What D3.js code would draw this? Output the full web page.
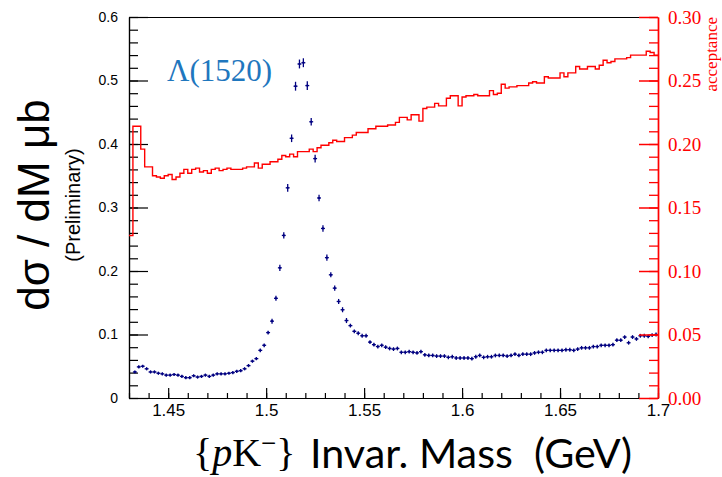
<!DOCTYPE html>
<html lang="en">
<head>
  <meta charset="UTF-8">
  <title>pK- invariant mass</title>
  <script src="https://cdn.jsdelivr.net/npm/d3@7"></script>
  <style>
    html, body {
      margin: 0;
      padding: 0;
      background: #fff;
      overflow: hidden;
    }
    svg { display: block; }
  </style>
</head>
<body>
  <svg id="chart" width="722" height="477"></svg>
  <script>
    // binning, GeV
    const binWidth = 0.002;
    const xsecStart = 1.432;   // low edge of first cross-section bin
    const accStart = 1.430;    // low edge of first acceptance bin

    // d sigma / dM (ub), one value per 2 MeV bin, 1.432 .. 1.700
    const xsec = [
      0.041, 0.049, 0.050, 0.046, 0.041, 0.041, 0.039, 0.038, 0.036, 0.036,
      0.037, 0.036, 0.034, 0.032, 0.032, 0.035, 0.033, 0.034, 0.036, 0.034,
      0.036, 0.038, 0.038, 0.038, 0.039, 0.040, 0.042, 0.043, 0.046, 0.051,
      0.058, 0.062, 0.075, 0.083, 0.103, 0.121, 0.157, 0.205, 0.256, 0.331,
      0.409, 0.491, 0.526, 0.528, 0.492, 0.435, 0.377, 0.315, 0.267, 0.221,
      0.194, 0.173, 0.152, 0.139, 0.122, 0.114, 0.105, 0.102, 0.098, 0.098,
      0.088, 0.084, 0.081, 0.083, 0.080, 0.078, 0.077, 0.078, 0.072, 0.072,
      0.073, 0.072, 0.071, 0.073, 0.068, 0.067, 0.067, 0.066, 0.066, 0.066,
      0.064, 0.065, 0.063, 0.063, 0.063, 0.063, 0.062, 0.065, 0.067, 0.064,
      0.065, 0.065, 0.067, 0.067, 0.067, 0.066, 0.067, 0.069, 0.067, 0.069,
      0.069, 0.069, 0.071, 0.072, 0.072, 0.075, 0.075, 0.075, 0.075, 0.075,
      0.076, 0.076, 0.075, 0.077, 0.079, 0.079, 0.079, 0.081, 0.081, 0.083,
      0.083, 0.083, 0.084, 0.091, 0.091, 0.096, 0.087, 0.096, 0.093, 0.098,
      0.098, 0.097, 0.099, 0.100
    ];
    const xsecErr = [
      0.0025, 0.0025, 0.0025, 0.0025, 0.0025, 0.0025, 0.0025, 0.0025, 0.0025, 0.0025,
      0.0025, 0.0025, 0.0025, 0.0025, 0.0025, 0.0025, 0.0025, 0.0025, 0.0025, 0.0025,
      0.0025, 0.0025, 0.0025, 0.0025, 0.0025, 0.0025, 0.0025, 0.0025, 0.0025, 0.0025,
      0.0025, 0.0025, 0.003, 0.003, 0.003, 0.004, 0.004, 0.005, 0.005, 0.006,
      0.006, 0.007, 0.007, 0.007, 0.007, 0.006, 0.006, 0.005, 0.005, 0.005,
      0.004, 0.004, 0.004, 0.004, 0.004, 0.003, 0.003, 0.003, 0.003, 0.003,
      0.003, 0.003, 0.003, 0.003, 0.003, 0.003, 0.003, 0.003, 0.003, 0.003,
      0.003, 0.003, 0.003, 0.003, 0.003, 0.003, 0.003, 0.003, 0.003, 0.003,
      0.003, 0.003, 0.003, 0.003, 0.003, 0.003, 0.003, 0.003, 0.003, 0.003,
      0.003, 0.003, 0.003, 0.003, 0.003, 0.003, 0.003, 0.003, 0.003, 0.003,
      0.003, 0.003, 0.003, 0.003, 0.003, 0.003, 0.003, 0.003, 0.003, 0.003,
      0.003, 0.003, 0.003, 0.003, 0.003, 0.003, 0.003, 0.003, 0.003, 0.003,
      0.003, 0.003, 0.003, 0.003, 0.003, 0.003, 0.003, 0.003, 0.003, 0.003,
      0.003, 0.003, 0.003, 0.003
    ];

    // acceptance, one value per 2 MeV bin, 1.430 .. 1.700
    const acceptance = [
      0.128, 0.214, 0.214, 0.196, 0.182, 0.182, 0.175, 0.174, 0.173, 0.175,
      0.176, 0.172, 0.174, 0.177, 0.180, 0.177, 0.180, 0.181, 0.178, 0.179,
      0.177, 0.180, 0.181, 0.179, 0.180, 0.181, 0.180, 0.180, 0.180, 0.181,
      0.182, 0.182, 0.185, 0.181, 0.184, 0.184, 0.186, 0.186, 0.188, 0.191,
      0.190, 0.192, 0.190, 0.194, 0.194, 0.194, 0.196, 0.194, 0.197, 0.199,
      0.199, 0.201, 0.203, 0.202, 0.202, 0.205, 0.205, 0.207, 0.209, 0.209,
      0.209, 0.212, 0.212, 0.214, 0.214, 0.214, 0.215, 0.215, 0.217, 0.221,
      0.221, 0.219, 0.223, 0.223, 0.218, 0.228, 0.229, 0.229, 0.232, 0.230,
      0.230, 0.236, 0.238, 0.238, 0.230, 0.237, 0.238, 0.238, 0.239, 0.238,
      0.238, 0.238, 0.242, 0.239, 0.240, 0.247, 0.244, 0.245, 0.245, 0.246,
      0.246, 0.246, 0.248, 0.249, 0.248, 0.248, 0.253, 0.252, 0.252, 0.252,
      0.256, 0.253, 0.256, 0.256, 0.261, 0.259, 0.259, 0.261, 0.261, 0.259,
      0.262, 0.266, 0.264, 0.265, 0.267, 0.267, 0.267, 0.268, 0.270, 0.270,
      0.270, 0.270, 0.273, 0.272, 0.270
    ];

    const xTicks = [1.45, 1.5, 1.55, 1.6, 1.65, 1.7];
    const xTickLabels = ['1.45', '1.5', '1.55', '1.6', '1.65', '1.7'];
    const yTicks = [0, 0.1, 0.2, 0.3, 0.4, 0.5, 0.6];
    const yTickLabels = ['0', '0.1', '0.2', '0.3', '0.4', '0.5', '0.6'];
    const accTicks = [0, 0.05, 0.10, 0.15, 0.20, 0.25, 0.30];
    const accTickLabels = ['0.00', '0.05', '0.10', '0.15', '0.20', '0.25', '0.30'];

    const frame = {left: 129, right: 658, top: 17, bottom: 398};
    const navy = '#000080';
    const red = '#ff0000';

    const svg = d3.select('#chart');
    svg.append('rect').attr('width', 722).attr('height', 477).attr('fill', '#fff');

    const x = d3.scaleLinear().domain([1.43, 1.7]).range([frame.left, frame.right]);
    const y = d3.scaleLinear().domain([0, 0.6]).range([frame.bottom, frame.top]);
    const yAcc = d3.scaleLinear().domain([0, 0.3]).range([frame.bottom, frame.top]);

    // top frame line
    svg.append('line')
      .attr('x1', frame.left).attr('x2', frame.right)
      .attr('y1', frame.top + 0.5).attr('y2', frame.top + 0.5)
      .attr('stroke', '#000').attr('stroke-width', 1.2);

    // left axis: minor then major, ticks pointing inward
    svg.append('g').attr('transform', `translate(${frame.left},0)`)
      .call(d3.axisLeft(y).tickValues(d3.range(0, 0.61, 0.02)).tickSize(-9).tickSizeOuter(0).tickFormat(''));
    const gLeft = svg.append('g').attr('transform', `translate(${frame.left},0)`)
      .call(d3.axisLeft(y).tickValues(yTicks).tickSize(-19).tickSizeOuter(0).tickPadding(11)
        .tickFormat((d, i) => yTickLabels[i]));
    gLeft.selectAll('text')
      .attr('font-family', '"Liberation Sans", Arial, sans-serif')
      .attr('font-size', 14).attr('fill', '#000');

    // bottom axis
    svg.append('g').attr('transform', `translate(0,${frame.bottom})`)
      .call(d3.axisBottom(x).tickValues(d3.range(143, 171).map(d => d / 100)).tickSize(-5).tickSizeOuter(0).tickFormat(''));
    const gBottom = svg.append('g').attr('transform', `translate(0,${frame.bottom})`)
      .call(d3.axisBottom(x).tickValues(xTicks).tickSize(-10).tickSizeOuter(0).tickPadding(6)
        .tickFormat((d, i) => xTickLabels[i]));
    gBottom.selectAll('text')
      .attr('font-family', '"Liberation Sans", Arial, sans-serif')
      .attr('font-size', 17).attr('fill', '#000');

    svg.selectAll('.domain, .tick line').attr('stroke', '#000').attr('stroke-width', 1.2);

    // acceptance histogram (step outline)
    const accSteps = [];
    acceptance.forEach((v, i) => {
      accSteps.push([accStart + i * binWidth, v]);
      accSteps.push([accStart + (i + 1) * binWidth, v]);
    });
    svg.append('path')
      .datum(accSteps)
      .attr('fill', 'none')
      .attr('stroke', red)
      .attr('stroke-width', 1.4)
      .attr('d', d3.line().x(d => x(d[0])).y(d => yAcc(d[1])));

    // cross-section points with error bars
    const points = xsec.map((v, i) => ({
      lo: xsecStart + i * binWidth,
      hi: xsecStart + (i + 1) * binWidth,
      mid: xsecStart + (i + 0.5) * binWidth,
      v,
      err: xsecErr[i],
    }));
    const gPts = svg.append('g').attr('stroke', navy).attr('stroke-width', 1.3);
    gPts.selectAll('line.h').data(points).enter().append('line')
      .attr('class', 'h')
      .attr('x1', d => x(d.lo)).attr('x2', d => x(d.hi))
      .attr('y1', d => y(d.v)).attr('y2', d => y(d.v));
    gPts.selectAll('line.v').data(points).enter().append('line')
      .attr('class', 'v')
      .attr('x1', d => x(d.mid)).attr('x2', d => x(d.mid))
      .attr('y1', d => y(d.v - d.err)).attr('y2', d => y(d.v + d.err));
    svg.append('g').selectAll('circle').data(points).enter().append('circle')
      .attr('cx', d => x(d.mid)).attr('cy', d => y(d.v)).attr('r', 1.1)
      .attr('fill', navy);

    // right acceptance axis
    const gRightMinor = svg.append('g').attr('transform', `translate(${frame.right},0)`)
      .call(d3.axisRight(yAcc).tickValues(d3.range(0, 0.301, 0.01)).tickSize(-9).tickSizeOuter(0).tickFormat(''));
    const gRight = svg.append('g').attr('transform', `translate(${frame.right},0)`)
      .call(d3.axisRight(yAcc).tickValues(accTicks).tickSize(-19).tickSizeOuter(0).tickPadding(10)
        .tickFormat((d, i) => accTickLabels[i]));
    gRightMinor.selectAll('.domain, .tick line').attr('stroke', red).attr('stroke-width', 1.3);
    gRight.selectAll('.domain, .tick line').attr('stroke', red).attr('stroke-width', 1.5);
    gRight.selectAll('text')
      .attr('font-family', '"Liberation Serif", "Times New Roman", serif')
      .attr('font-size', 19).attr('fill', red);

    // labels
    svg.append('text')
      .attr('x', 167).attr('y', 81)
      .attr('font-family', '"Liberation Serif", "Times New Roman", serif')
      .attr('font-size', 31).attr('fill', '#1f77be')
      .text('Λ(1520)');

    svg.append('text')
      .attr('transform', 'translate(49,205) rotate(-90)')
      .attr('text-anchor', 'middle')
      .attr('font-family', '"Liberation Sans", Arial, sans-serif')
      .attr('font-size', 44).attr('fill', '#000')
      .text('dσ / dM μb');

    svg.append('text')
      .attr('transform', 'translate(80,205) rotate(-90)')
      .attr('text-anchor', 'middle')
      .attr('font-family', '"Liberation Sans", Arial, sans-serif')
      .attr('font-size', 20).attr('fill', '#000')
      .text('(Preliminary)');

    svg.append('text')
      .attr('transform', 'translate(717,17) rotate(-90)')
      .attr('text-anchor', 'end')
      .attr('font-family', '"Liberation Serif", "Times New Roman", serif')
      .attr('font-size', 17).attr('fill', red)
      .text('acceptance');

    // x title: {pK-} in serif, rest in sans
    const xt = svg.append('text')
      .attr('x', 193).attr('y', 466)
      .attr('font-family', '"Liberation Serif", "Times New Roman", serif')
      .attr('font-size', 40).attr('fill', '#000');
    xt.append('tspan').text('{');
    xt.append('tspan').attr('font-style', 'italic').text('p');
    xt.append('tspan').text('K');
    xt.append('tspan').attr('font-size', 27).attr('dy', -14).text('\u2212');
    xt.append('tspan').attr('dy', 14).text('}');

    svg.append('text')
      .attr('x', 310).attr('y', 468)
      .attr('font-family', 'Lato, "Open Sans", sans-serif')
      .attr('font-size', 41).attr('fill', '#000')
      .attr('textLength', 322).attr('lengthAdjust', 'spacingAndGlyphs')
      .text('Invar. Mass\u00a0\u00a0(GeV)');
  </script>
</body>
</html>
